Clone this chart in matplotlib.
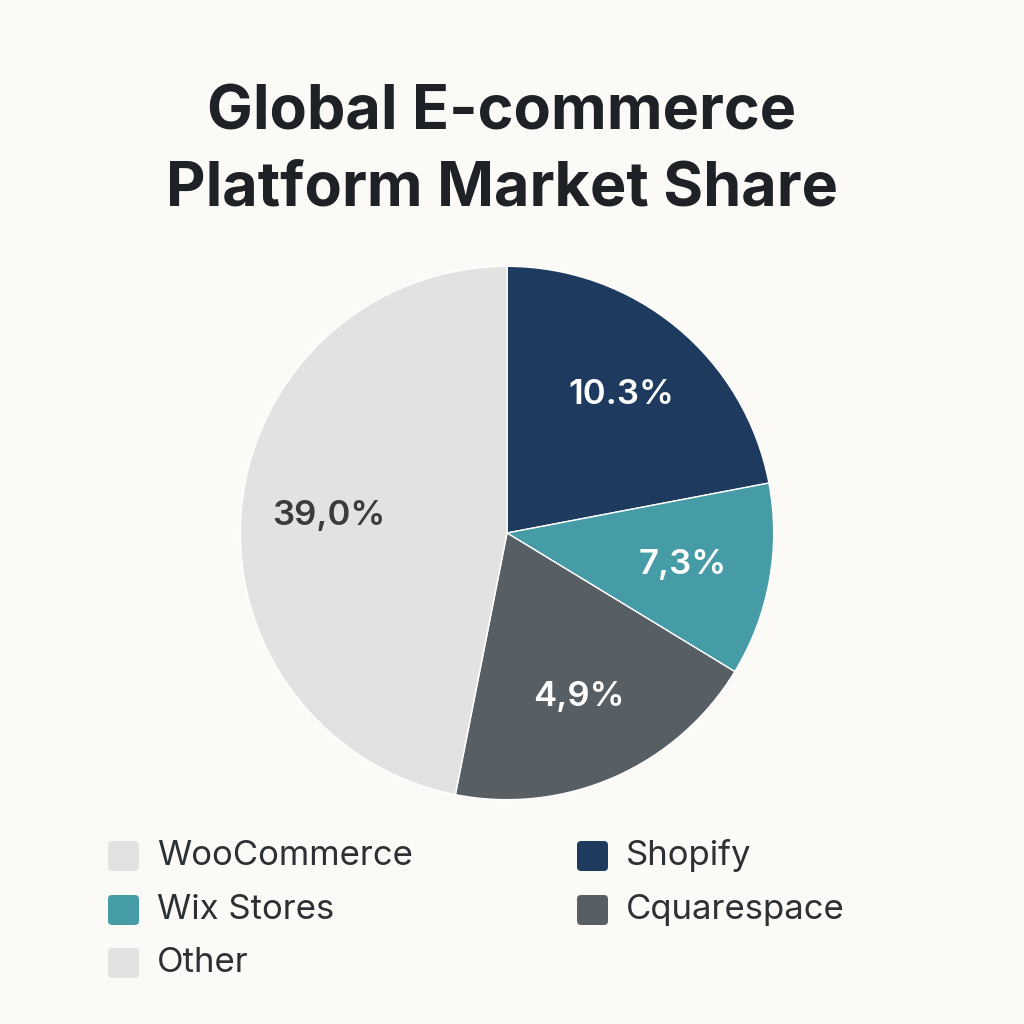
import matplotlib.pyplot as plt
from matplotlib.patches import FancyBboxPatch
import numpy as np

# Data (slice sizes as drawn, labels as printed)
categories = ["WooCommerce", "Shopify", "Wix Stores", "Cquarespace", "Other"]
shares = [46.9, 22.0, 11.7, 19.4, 0.0]
pct_labels = ["39,0%", "10.3%", "7,3%", "4,9%", ""]
colors = ["#e2e2e2", "#1f3a5f", "#469ca6", "#575f64", "#e2e2e2"]
label_colors = ["#3b3b3b", "white", "white", "white", "white"]
pie_order = [1, 2, 3, 0]  # clockwise from 12 o'clock

bg = '#fbfaf7'
text_dark = '#1e2226'
plt.rcParams['font.family'] = ['Inter', 'DejaVu Sans']

fig = plt.figure(figsize=(10.24, 10.24), dpi=100, facecolor=bg)

# Title
fig.text(0.49, 0.889, "Global E-commerce", fontsize=44, fontweight='bold',
         ha='center', va='center', color=text_dark)
fig.text(0.49, 0.815, "Platform Market Share", fontsize=44, fontweight='bold',
         ha='center', va='center', color=text_dark)

# Pie
cx, cy, r = 507, 533, 268
ax = fig.add_axes([(cx - r) / 1024, (1024 - cy - r) / 1024, 2 * r / 1024, 2 * r / 1024])
ax.set_facecolor(bg)
wedges, _ = ax.pie([shares[i] for i in pie_order],
                   colors=[colors[i] for i in pie_order],
                   startangle=90, counterclock=False, radius=1,
                   wedgeprops=dict(edgecolor='white', linewidth=1.0))
ax.set_xlim(-1.005, 1.005)
ax.set_ylim(-1.005, 1.005)
ax.set_aspect('equal')
ax.axis('off')

for w, i in zip(wedges, pie_order):
    mid = np.deg2rad((w.theta1 + w.theta2) / 2)
    ax.text(0.67 * np.cos(mid), 0.67 * np.sin(mid), pct_labels[i], fontsize=25,
            fontweight='semibold', ha='center', va='center', color=label_colors[i])

# Legend, two columns filled row by row
col_x = [108, 577]
row_y = [856, 910, 963]
for k, name in enumerate(categories):
    x0 = col_x[k % 2]
    y0 = row_y[k // 2]
    sq = FancyBboxPatch((x0 / 1024, (1024 - y0 - 15) / 1024), 31 / 1024, 30 / 1024,
                        boxstyle="round,pad=0,rounding_size=0.004",
                        transform=fig.transFigure, facecolor=colors[k],
                        edgecolor='none')
    fig.patches.append(sq)
    fig.text((x0 + 49) / 1024, (1024 - y0) / 1024, name, fontsize=25,
             ha='left', va='center', color='#2e3133')

plt.savefig('out.png', dpi=100, facecolor=bg)
plt.close()
